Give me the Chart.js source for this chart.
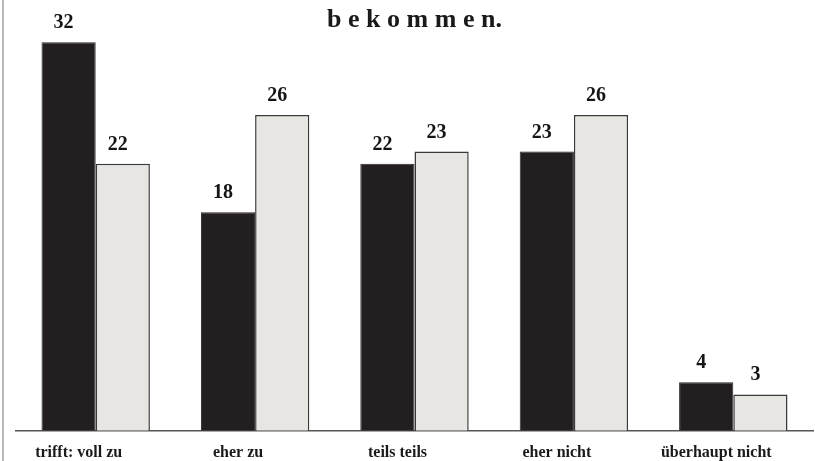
<!DOCTYPE html>
<html>
<head>
<meta charset="utf-8">
<script src="https://cdn.jsdelivr.net/npm/chart.js@4/dist/chart.umd.min.js"></script>
<style>
  html, body { margin: 0; padding: 0; background: #fff; }
  #wrap { position: relative; width: 815px; height: 461px; }
  #rand { position: absolute; left: 2px; top: 0; width: 2px; height: 461px; background: #b9b9b9; }
</style>
</head>
<body>
<div id="wrap">
  <canvas id="balken" width="815" height="461"></canvas>
  <div id="rand"></div>
</div>
<script>
var kategorien = ["trifft: voll zu", "eher zu", "teils teils", "eher nicht", "überhaupt nicht"];
var werteA = [32, 18, 22, 23, 4];
var werteB = [22, 26, 23, 26, 3];
var titel = "b e k o m m e n.";

// Zahlen über den Balken
var wertBeschriftung = {
  id: "wertBeschriftung",
  afterDatasetsDraw: function (chart) {
    var ctx = chart.ctx;
    ctx.save();
    ctx.font = "bold 20px 'Liberation Serif', serif";
    ctx.fillStyle = "#161414";
    ctx.textAlign = "center";
    ctx.textBaseline = "alphabetic";
    chart.data.datasets.forEach(function (ds, i) {
      var meta = chart.getDatasetMeta(i);
      meta.data.forEach(function (bar, j) {
        ctx.fillText(String(ds.data[j]), bar.x - 5, bar.y - 14);
      });
    });
    ctx.restore();
  }
};

var ctx = document.getElementById("balken").getContext("2d");
var balken = new Chart(ctx, {
  type: "bar",
  data: {
    labels: kategorien,
    datasets: [
      {
        data: werteA,
        backgroundColor: "#231f20",
        borderColor: "#2a2626",
        borderWidth: 1,
        categoryPercentage: 0.68,
        barPercentage: 1
      },
      {
        data: werteB,
        backgroundColor: "#e8e6e3",
        borderColor: "#3a3838",
        borderWidth: 1.5,
        categoryPercentage: 0.68,
        barPercentage: 1
      }
    ]
  },
  options: {
    responsive: false,
    animation: false,
    layout: { padding: { left: 16, right: 2, top: 0, bottom: -13 } },
    plugins: {
      legend: { display: false },
      tooltip: { enabled: false },
      title: {
        display: true,
        text: titel,
        color: "#1a1a1a",
        font: { family: "'Liberation Serif', serif", size: 26, weight: "bold" },
        padding: { top: 5, bottom: 0 }
      }
    },
    scales: {
      x: {
        grid: { display: false, drawTicks: false },
        border: { display: true, color: "#555", width: 1.5 },
        ticks: {
          color: "#1a1a1a",
          padding: 12,
          labelOffset: -17,
          font: { family: "'Liberation Serif', serif", size: 16, weight: "bold" }
        }
      },
      y: {
        display: false,
        min: 0,
        max: 32.5
      }
    }
  },
  plugins: [wertBeschriftung]
});
</script>
</body>
</html>
